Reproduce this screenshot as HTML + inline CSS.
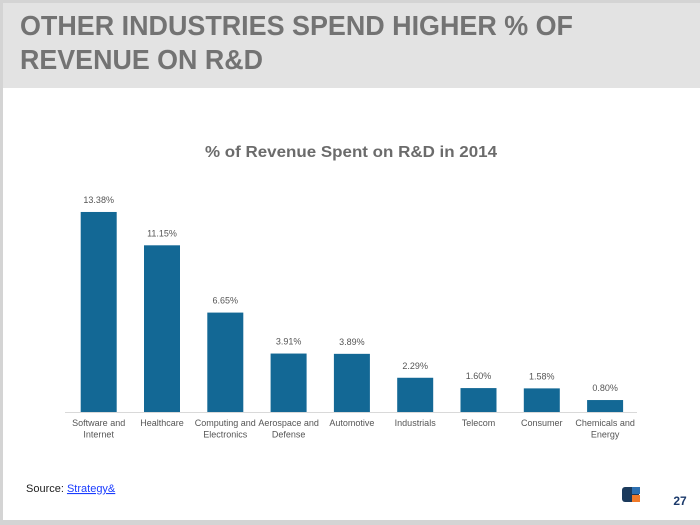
<!DOCTYPE html>
<html><head><meta charset="utf-8">
<style>
html,body{margin:0;padding:0;background:#fff;}
svg{display:block;font-family:"Liberation Sans",sans-serif;}
</style></head>
<body>
<svg id="c" width="700" height="525" viewBox="0 0 700 525">
  <rect x="0" y="0" width="700" height="525" fill="#fff"/>
  <rect x="0" y="0" width="700" height="3" fill="#d4d4d4"/>
  <rect x="0" y="0" width="3" height="525" fill="#d4d4d4"/>
  <rect x="0" y="520" width="700" height="5" fill="#d4d4d4"/>
  <rect x="3" y="3" width="697" height="85" fill="#e3e3e3"/>
  <text x="20" y="35" font-size="28" font-weight="bold" fill="#737373" textLength="553" lengthAdjust="spacingAndGlyphs">OTHER INDUSTRIES SPEND HIGHER % OF</text>
  <text x="20" y="69" font-size="28" font-weight="bold" fill="#737373" textLength="243" lengthAdjust="spacingAndGlyphs">REVENUE ON R&amp;D</text>
  <text x="351" y="157" font-size="16" font-weight="bold" fill="#6b6b6b" text-anchor="middle" textLength="292" lengthAdjust="spacingAndGlyphs">% of Revenue Spent on R&amp;D in 2014</text>
  <line x1="65" y1="412.5" x2="637" y2="412.5" stroke="#d9d9d9" stroke-width="1"/>
  <g id="bars"></g>
  <text x="26" y="492" font-size="11" fill="#222">Source: <tspan fill="#1a3cff" text-decoration="underline">Strategy&amp;</tspan></text>
  <g>
    <rect x="622" y="487" width="17" height="15" rx="3" fill="#1b3a5c"/>
    <rect x="632" y="487" width="8" height="7" fill="#2d6fb0"/>
    <rect x="632" y="495" width="8" height="7" fill="#f07a2a"/>
  </g>
  <text x="680" y="505" font-size="12" font-weight="bold" fill="#1b3a6b" text-anchor="middle">27</text>
</svg>
<script>
const categories = [["Software and","Internet"],["Healthcare"],["Computing and","Electronics"],["Aerospace and","Defense"],["Automotive"],["Industrials"],["Telecom"],["Consumer"],["Chemicals and","Energy"]];
const values = [13.38, 11.15, 6.65, 3.91, 3.89, 2.29, 1.60, 1.58, 0.80];
const valueLabels = ["13.38%","11.15%","6.65%","3.91%","3.89%","2.29%","1.60%","1.58%","0.80%"];

const NS = "http://www.w3.org/2000/svg";
const baseY = 412, pxPerUnit = 14.95, firstCenter = 98.7, step = 63.3, barW = 36;
function xScale(i){ return firstCenter + i*step; }
function yScale(v){ return baseY - v*pxPerUnit; }
const g = document.getElementById("bars");
values.forEach((v,i)=>{
  const cx = xScale(i), top = yScale(v);
  const r = document.createElementNS(NS,"rect");
  r.setAttribute("x", cx-barW/2); r.setAttribute("y", top);
  r.setAttribute("width", barW); r.setAttribute("height", baseY-top);
  r.setAttribute("fill", "#136895");
  
  
  g.appendChild(r);
  const t = document.createElementNS(NS,"text");
  t.setAttribute("x", cx); t.setAttribute("y", top-9);
  t.setAttribute("font-size","9"); t.setAttribute("fill","#555");
  t.setAttribute("text-anchor","middle");
  t.textContent = valueLabels[i];
  
  
  g.appendChild(t);
  categories[i].forEach((line,j)=>{
    const c = document.createElementNS(NS,"text");
    c.setAttribute("x", cx); c.setAttribute("y", 426 + j*11.5);
    c.setAttribute("font-size","9"); c.setAttribute("fill","#555");
    c.setAttribute("text-anchor","middle");
    c.textContent = line;
    
    
    g.appendChild(c);
  });
});
</script>
</body></html>
